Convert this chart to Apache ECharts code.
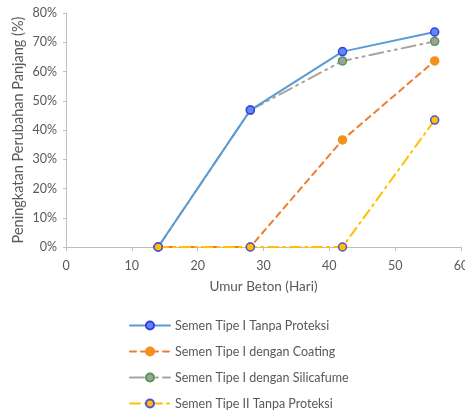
<!DOCTYPE html>
<html>
<head>
<meta charset="utf-8">
<script src="https://cdn.jsdelivr.net/npm/echarts@6/dist/echarts.min.js"></script>
<style>
html,body{margin:0;padding:0;background:#fff;}
#chart{width:465px;height:411px;}
</style>
</head>
<body>
<div id="chart"></div>
<script>
// Concrete age (days) and length change (%) per cement type
const ageDays = [14, 28, 42, 56];
const tipeITanpa = [0, 46.8, 66.8, 73.5];
const tipeICoating = [0, 0, 36.6, 63.6];
const tipeISilica = [0, 46.8, 63.6, 70.3];
const tipeIITanpa = [0, 0, 0, 43.4];
const yTicks = [0, 10, 20, 30, 40, 50, 60, 70, 80];
const xTicks = [0, 10, 20, 30, 40, 50, 60];

const FONT = 'Lato, "Open Sans", sans-serif';
const TXT = '#595959';

function pairs(vals) { return ageDays.map((d, i) => [d, vals[i]]); }

function mkSeries(name, vals, lineColor, lineType, fill, border, z) {
  return {
    name: name,
    type: 'line',
    data: pairs(vals),
    symbol: 'circle',
    symbolSize: 8,
    z: z,
    lineStyle: { color: lineColor, width: 2, type: lineType, cap: 'round' },
    itemStyle: { color: fill, borderColor: border, borderWidth: 1.5 },
    emphasis: { disabled: true }
  };
}

const chart = echarts.init(document.getElementById('chart'));
chart.setOption({
  animation: false,
  backgroundColor: '#fff',
  textStyle: { fontFamily: FONT },
  grid: { left: 66, right: 4, top: 13, bottom: 164, outerBoundsMode: 'none', containLabel: false },
  xAxis: {
    type: 'value', min: 0, max: 60, interval: 10,
    name: 'Umur Beton (Hari)', nameLocation: 'middle', nameGap: 33,
    nameTextStyle: { color: TXT, fontSize: 13.5, fontFamily: FONT },
    axisLine: { lineStyle: { color: '#bfbfbf', width: 1 } },
    axisTick: { show: true, length: 4, lineStyle: { color: '#bfbfbf' } },
    axisLabel: { color: TXT, fontSize: 12.5, fontFamily: FONT, margin: 12,
      formatter: v => xTicks.includes(v) ? String(v) : '' },
    splitLine: { show: false }
  },
  yAxis: {
    type: 'value', min: 0, max: 80, interval: 10,
    name: 'Peningkatan Perubahan Panjang (%)', nameLocation: 'middle', nameGap: 40,
    nameMoveOverlap: false,
    nameTextStyle: { color: TXT, fontSize: 14.5, fontFamily: FONT },
    axisLine: { show: true, lineStyle: { color: '#bfbfbf', width: 1 } },
    axisTick: { show: true, length: 3, lineStyle: { color: '#bfbfbf' } },
    axisLabel: { color: TXT, fontSize: 12.5, fontFamily: FONT, margin: 9,
      formatter: v => yTicks.includes(v) ? v + '%' : '' },
    splitLine: { show: false }
  },
  legend: {
    orient: 'vertical', left: 129, top: 319, bottom: 0, padding: 0, itemGap: 13,
    itemWidth: 40, itemHeight: 10,
    textStyle: { color: TXT, fontSize: 12.5, fontFamily: FONT },
    data: ['Semen Tipe I Tanpa Proteksi', 'Semen Tipe I dengan Coating',
           'Semen Tipe I dengan Silicafume', 'Semen Tipe II Tanpa Proteksi']
  },
  series: [
    mkSeries('Semen Tipe I Tanpa Proteksi', tipeITanpa, '#5B9BD5', 'solid', '#5b8cf5', '#3a3ae8', 4),
    mkSeries('Semen Tipe I dengan Coating', tipeICoating, '#ED7D31', [6, 5], '#f5901e', '#f5901e', 3),
    mkSeries('Semen Tipe I dengan Silicafume', tipeISilica, '#A5A5A5', [14, 5, 2, 5, 2, 5], '#a0a0a0', '#4e9a4e', 2),
    mkSeries('Semen Tipe II Tanpa Proteksi', tipeIITanpa, '#FFC000', [10, 5, 2, 5], '#ffc000', '#5050e0', 5)
  ]
});
</script>
</body>
</html>
